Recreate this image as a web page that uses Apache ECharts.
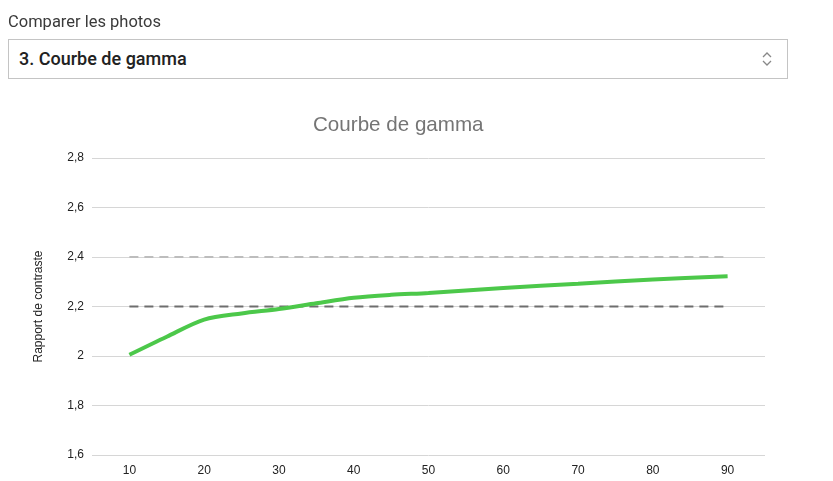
<!DOCTYPE html>
<html><head><meta charset="utf-8">
<script src="https://cdn.jsdelivr.net/npm/echarts@6/dist/echarts.min.js"></script>
<style>
html,body{margin:0;padding:0;background:#fff;width:833px;height:481px;overflow:hidden;}
#chart{position:absolute;left:0;top:0;width:833px;height:481px;}
#lbl{position:absolute;left:8px;top:12px;font-family:Roboto,sans-serif;font-size:16.5px;color:#3a3a3a;}
#sel{position:absolute;left:8px;top:39px;width:778px;height:38px;border:1px solid #c4c4c4;background:#fff;}
#sel span{position:absolute;left:10px;top:8px;font-family:"Roboto Medium",Roboto,sans-serif;font-size:18px;font-weight:500;color:#222;}
#sel svg{position:absolute;right:14px;top:10px;}
</style></head>
<body>
<div id="chart"></div>
<div id="lbl">Comparer les photos</div>
<div id="sel"><span>3. Courbe de gamma</span>
<svg width="12" height="18" viewBox="0 0 12 18"><path d="M2 7 L6 3 L10 7" fill="none" stroke="#888" stroke-width="1.3"/><path d="M2 11 L6 15 L10 11" fill="none" stroke="#888" stroke-width="1.3"/></svg>
</div>
<script>
const xTicks = [10, 20, 30, 40, 50, 60, 70, 80, 90];
const gammaX = [10, 15, 20, 25, 30, 35, 40, 45, 50, 60, 70, 80, 90];
const gammaY = [2.005, 2.078, 2.147, 2.172, 2.19, 2.213, 2.235, 2.247, 2.255, 2.275, 2.292, 2.309, 2.322];
const refUpper = 2.4;
const refLower = 2.2;
const refStart = 10, refEnd = 90;

const chart = echarts.init(document.getElementById('chart'));
chart.setOption({
  animation: false,
  title: {
    text: 'Courbe de gamma', left: 308, top: 110,
    textStyle: {fontFamily: 'Liberation Sans, Arial, sans-serif', fontSize: 20.6, fontWeight: 'normal', color: '#757575'}
  },
  grid: {left: 92, right: 68, top: 158, bottom: 26},
  xAxis: {
    type: 'value', min: 5, max: 95,
    axisLine: {show: false}, axisTick: {show: false}, splitLine: {show: false},
    axisLabel: {customValues: xTicks, margin: 10, color: '#222', fontSize: 12, fontFamily: 'Liberation Sans, Arial, sans-serif'}
  },
  yAxis: {
    type: 'value', min: 1.6, max: 2.8, interval: 0.2,
    name: 'Rapport de contraste', nameLocation: 'middle', nameRotate: 90, nameGap: 47,
    nameTextStyle: {color: '#222', fontSize: 12, fontFamily: 'Liberation Sans, Arial, sans-serif'},
    axisLine: {show: false}, axisTick: {show: false},
    splitLine: {lineStyle: {color: '#d6d6d6', width: 1}},
    axisLabel: {margin: 8, color: '#222', fontSize: 12, fontFamily: 'Liberation Sans, Arial, sans-serif',
      formatter: v => String(+v.toFixed(1)).replace('.', ',')}
  },
  series: [
    {type: 'line', data: [[refStart, refUpper], [refEnd, refUpper]], symbol: 'none', silent: true,
     lineStyle: {color: '#bdbdbd', width: 2, type: [9, 6]}},
    {type: 'line', data: [[refStart, refLower], [refEnd, refLower]], symbol: 'none', silent: true,
     lineStyle: {color: '#6e6e6e', width: 2, type: [9, 6]}},
    {type: 'line', data: gammaX.map((x, i) => [x, gammaY[i]]), symbol: 'none', smooth: 0.3,
     lineStyle: {color: '#4cc84a', width: 4}}
  ]
});
</script>
</body></html>
